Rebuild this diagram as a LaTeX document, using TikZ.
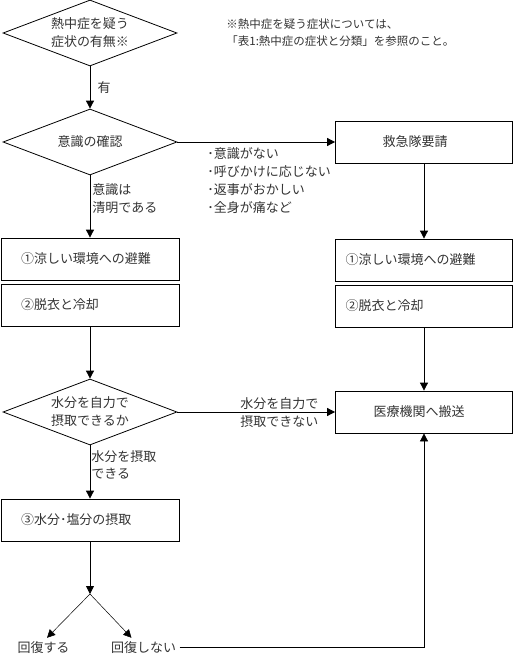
\documentclass[tikz,border=0pt]{standalone}
\usepackage{fontspec}
\setmainfont{Noto Sans CJK JP}
\usetikzlibrary{shapes.geometric,arrows.meta}

\definecolor{inkgray}{HTML}{333333}

\tikzset{
  choice/.style={draw, diamond, shape aspect=2.6, inner sep=0pt,
    minimum width=174pt, minimum height=66pt, align=center},
  flowbox/.style 2 args={draw, minimum height=42pt, inner ysep=0pt,
    inner xsep=#1, text width=#2, align=left},
  edgetext/.style={anchor=north west, inner sep=0pt, align=left},
  flow/.style={-{Triangle[width=8pt,length=8pt]}},
}

\begin{document}
\begin{tikzpicture}[x=1pt, y=-1pt, line width=0.8pt, text=inkgray,
    font=\fontsize{13}{18}\selectfont]
  \useasboundingbox (0,0) rectangle (514,654);
  % Draw note
  \node[edgetext, font=\fontsize{11.5}{17}\selectfont] (note) at (226,18)
    {※熱中症を疑う症状については、\\「表1:熱中症の症状と分類」を参照のこと。};
  % Draw left column
  \node[choice] (heat) at (90,33) {熱中症を疑う\\症状の有無※};
  \node[choice] (aware) at (90,142) {意識の確認};
  \node[flowbox={20pt}{138pt}] (coolL) at (90,259) {①涼しい環境への避難};
  \node[flowbox={20pt}{138pt}] (undressL) at (90,305) {②脱衣と冷却};
  \node[choice] (drink) at (90,412) {水分を自力で\\摂取できるか};
  \node[flowbox={20pt}{138pt}] (water) at (90,520) {③水分･塩分の摂取};
  \coordinate (fork) at (90,594);
  \node (recov) at (43.5,647.5) {回復する};
  \node (norecov) at (143.5,647.5) {回復しない};
  % Draw right column
  \node[flowbox={47pt}{83pt}] (call) at (424,142) {救急隊要請};
  \node[flowbox={10pt}{157pt}] (coolR) at (424,260) {①涼しい環境への避難};
  \node[flowbox={10pt}{157pt}] (undressR) at (424,306) {②脱衣と冷却};
  \node[flowbox={38pt}{101pt}] (hosp) at (424,412) {医療機関へ搬送};
  % Draw connectors
  \draw[flow] (heat) -- (aware) node[pos=0.5, right=4pt] {有};
  \draw[flow] (aware) -- (coolL);
  \draw[flow] (aware) -- (call);
  \draw[flow] (call) -- (coolR);
  \draw[flow] (undressR) -- (hosp);
  \draw[flow] (undressL) -- (drink);
  \draw[flow] (drink) -- (hosp);
  \draw[flow] (drink) -- (water);
  \draw[flow] (water) -- (fork);
  \draw[flow, line width=0.5pt] (fork) -- (recov.70);
  \draw[flow, line width=0.5pt] (fork) -- (norecov.141);
  \draw[flow] (norecov) -| (hosp);
  % Draw edge texts
  \node[edgetext, font=\fontsize{13}{17.7}\selectfont] (signs) at (207,147.5)
    {･意識がない\\･呼びかけに応じない\\･返事がおかしい\\･全身が痛など};
  \node[edgetext] (clear) at (92,183.5) {意識は\\清明である};
  \node[edgetext] (cannot) at (240,397.5) {水分を自力で\\摂取できない};
  \node[edgetext, font=\fontsize{13}{17}\selectfont] (can) at (91,450.5) {水分を摂取\\できる};
\end{tikzpicture}
\end{document}
